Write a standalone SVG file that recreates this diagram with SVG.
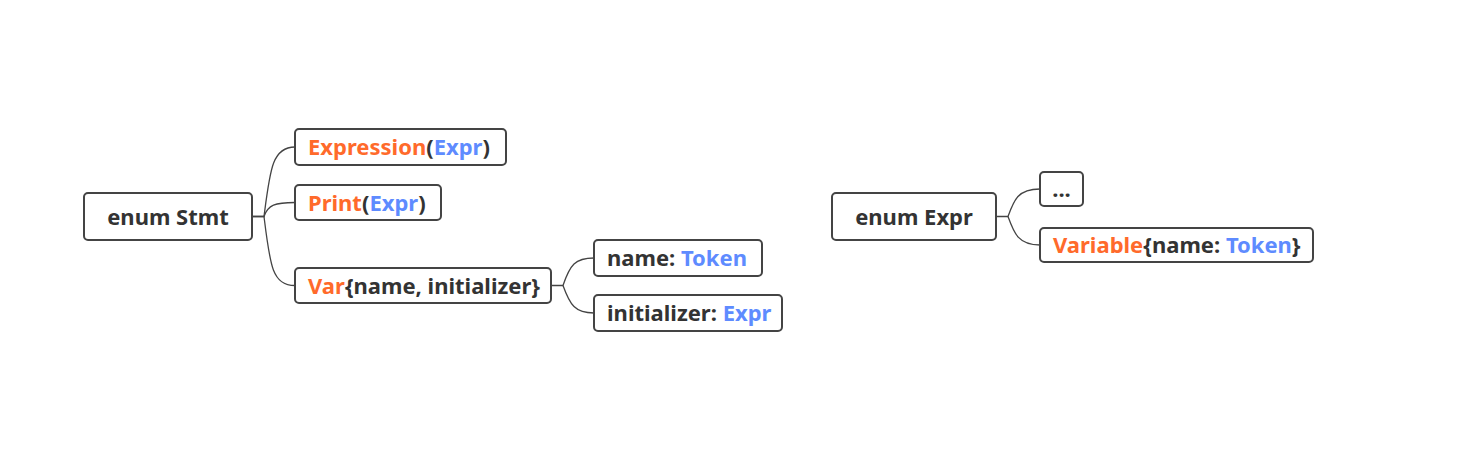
<svg xmlns="http://www.w3.org/2000/svg" width="1472" height="468" viewBox="0 0 1472 468">
<style>
.box{fill:#fff;stroke:#444;stroke-width:2}
.t{font-family:"Noto Sans","Open Sans","Liberation Sans",sans-serif;font-weight:bold;font-size:22px;fill:#333}
.o{fill:#FF6A2B}
.b{fill:#5E8BFF}
.c{fill:none;stroke:#444;stroke-width:1.3}
</style>
<rect width="1472" height="468" fill="#fff"/>
<g id="connectors">
<path class="c" d="M252,216.5 H264 C270,170 272,147 295,147"/>
<path class="c" d="M252,216.5 H264 C268,205 275,202.5 295,202.5"/>
<path class="c" d="M264,216.5 C270,265 272,285.5 295,285.5"/>
<path class="c" d="M551,285.5 H563 C570,265 575,258 594,258"/>
<path class="c" d="M563,285.5 C570,305 575,313 594,313"/>
<path class="c" d="M996,216.5 H1008 C1014,200 1018,189 1040,189"/>
<path class="c" d="M1008,216.5 C1014,233 1018,245 1040,245"/>
</g>
<g id="stmt"><rect class="box" x="84" y="193" width="168" height="47" rx="4"/><text class="t" x="168" y="224.5" text-anchor="middle">enum Stmt</text></g>
<g id="expression"><rect class="box" x="295" y="129" width="211" height="36" rx="4"/><text class="t" x="308" y="155"><tspan class="o">Expression</tspan>(<tspan class="b">Expr</tspan>)</text></g>
<g id="print"><rect class="box" x="295" y="185" width="146" height="35" rx="4"/><text class="t" x="308" y="210.5"><tspan class="o">Print</tspan>(<tspan class="b">Expr</tspan>)</text></g>
<g id="var"><rect class="box" x="295" y="268" width="256" height="35" rx="4"/><text class="t" x="308" y="293.5"><tspan class="o">Var</tspan>{name, initializer}</text></g>
<g id="name"><rect class="box" x="594" y="240" width="168" height="36" rx="4"/><text class="t" x="607" y="266">name: <tspan class="b">Token</tspan></text></g>
<g id="initializer"><rect class="box" x="594" y="295" width="188" height="36" rx="4"/><text class="t" x="607" y="321">initializer: <tspan class="b">Expr</tspan></text></g>
<g id="expr"><rect class="box" x="832" y="193" width="164" height="47" rx="4"/><text class="t" x="914" y="224.5" text-anchor="middle">enum Expr</text></g>
<g id="dots"><rect class="box" x="1040" y="172" width="43" height="34" rx="4"/><text class="t" x="1061.5" y="196.5" text-anchor="middle">...</text></g>
<g id="variable"><rect class="box" x="1040" y="228" width="273" height="34" rx="4"/><text class="t" x="1053" y="253"><tspan class="o">Variable</tspan>{name: <tspan class="b">Token</tspan>}</text></g>
</svg>
